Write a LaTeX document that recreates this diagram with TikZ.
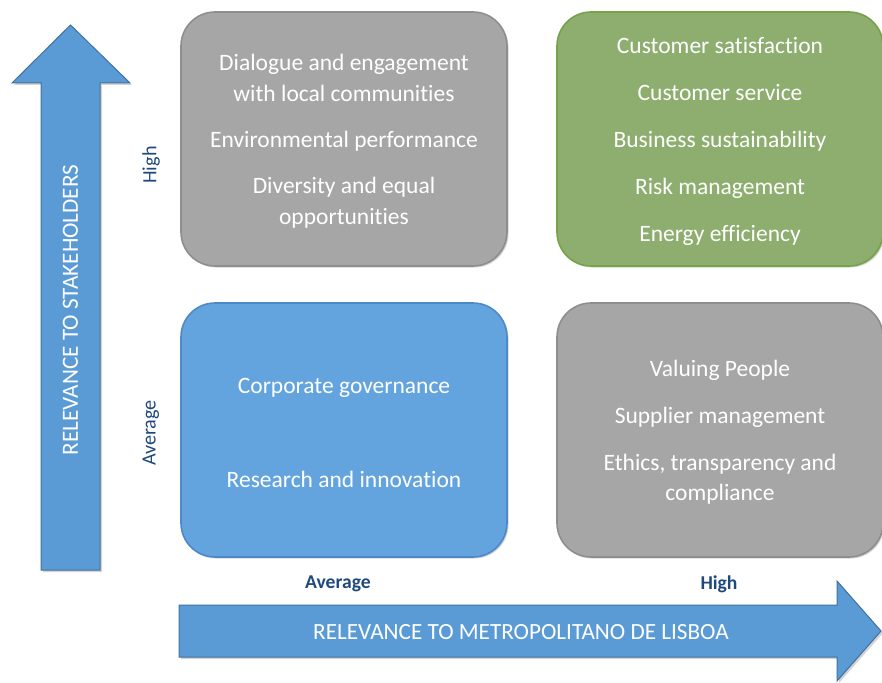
\documentclass[tikz,border=0pt]{standalone}
\usepackage{fontspec}
\setmainfont{Carlito}[Ligatures=NoCommon]
\usetikzlibrary{shadows}

\definecolor{arrowblue}{HTML}{5B9BD5}
\definecolor{arrowedge}{HTML}{41719C}
\definecolor{tilegray}{HTML}{A6A6A6}
\definecolor{tilegrayedge}{HTML}{8E8E8E}
\definecolor{tilegreen}{HTML}{8DAE6E}
\definecolor{tilegreenedge}{HTML}{76A24A}
\definecolor{tileblue}{HTML}{63A4DE}
\definecolor{tileblueedge}{HTML}{4C89C6}
\definecolor{axistext}{HTML}{1F497D}

\begin{document}
\begin{tikzpicture}[x=1pt,y=-1pt,
  bigarrow/.style={fill=arrowblue, draw=arrowedge, line width=1pt, line join=miter,
    drop shadow={shadow xshift=2pt, shadow yshift=-2pt, opacity=0.35}},
  arrowtext/.style={text=white, font=\fontsize{23.2}{26}\selectfont, inner sep=0pt},
  tile/.style={rounded corners=34pt, line width=1.6pt, minimum width=326pt,
    minimum height=254pt, inner sep=0pt,
    drop shadow={shadow xshift=1.5pt, shadow yshift=-1.5pt, opacity=0.35}},
  tiletext/.style={align=center, text=white, inner sep=0pt},
  levelx/.style={text=axistext, font=\bfseries\fontsize{19.6}{22}\selectfont, inner sep=0pt},
  levely/.style={text=axistext, font=\fontsize{20.2}{22}\selectfont, rotate=90, inner sep=0pt}
]
\useasboundingbox (0,0) rectangle (882,682);

% vertical axis arrow
\draw[bigarrow] (41,570) -- (41,83) -- (12,83) -- (70.5,25) -- (130,83)
  -- (100,83) -- (100,570) -- cycle;
\node[arrowtext, rotate=90] (ylabel) at (70.5,310) {RELEVANCE TO STAKEHOLDERS};

% horizontal axis arrow
\draw[bigarrow] (179,605) -- (837,605) -- (837,581) -- (881,631)
  -- (837,681) -- (837,657) -- (179,657) -- cycle;
\node[arrowtext] (xlabel) at (521,632) {RELEVANCE TO METROPOLITANO DE LISBOA};

% level labels
\node[levelx] (xavg) at (338,584) {Average};
\node[levelx] (xhigh) at (719,584) {High};
\node[levely] (yhigh) at (151,165) {High};
\node[levely] (yavg) at (151,433) {Average};

% matrix tiles
\node[tile, fill=tilegray, draw=tilegrayedge] (tl) at (344,139) {};
\node[tile, fill=tilegreen, draw=tilegreenedge] (tr) at (720,139) {};
\node[tile, fill=tileblue, draw=tileblueedge] (bl) at (344,430) {};
\node[tile, fill=tilegray, draw=tilegrayedge] (br) at (720,430) {};

% tile contents
\node[tiletext, font=\fontsize{23.5}{31}\selectfont] (tltext)
  at ([yshift=-2.5pt]tl.center)
  {Dialogue and engagement\\with local communities\\[15pt]
   Environmental performance\\[15pt]
   Diversity and equal\\opportunities};

\node[tiletext, font=\fontsize{23.5}{47}\selectfont] (trtext)
  at ([yshift=-2.5pt]tr.center)
  {Customer satisfaction\\Customer service\\Business sustainability\\
   Risk management\\Energy efficiency};

\node[tiletext, font=\fontsize{23.5}{94}\selectfont] (bltext)
  at ([yshift=-2.5pt]bl.center)
  {Corporate governance\\Research and innovation};

\node[tiletext, font=\fontsize{23.5}{47}\selectfont] (brtext)
  at ([yshift=-2.5pt]br.center)
  {Valuing People\\Supplier management\\
   Ethics, transparency and\\[-17pt]compliance};
\end{tikzpicture}
\end{document}
